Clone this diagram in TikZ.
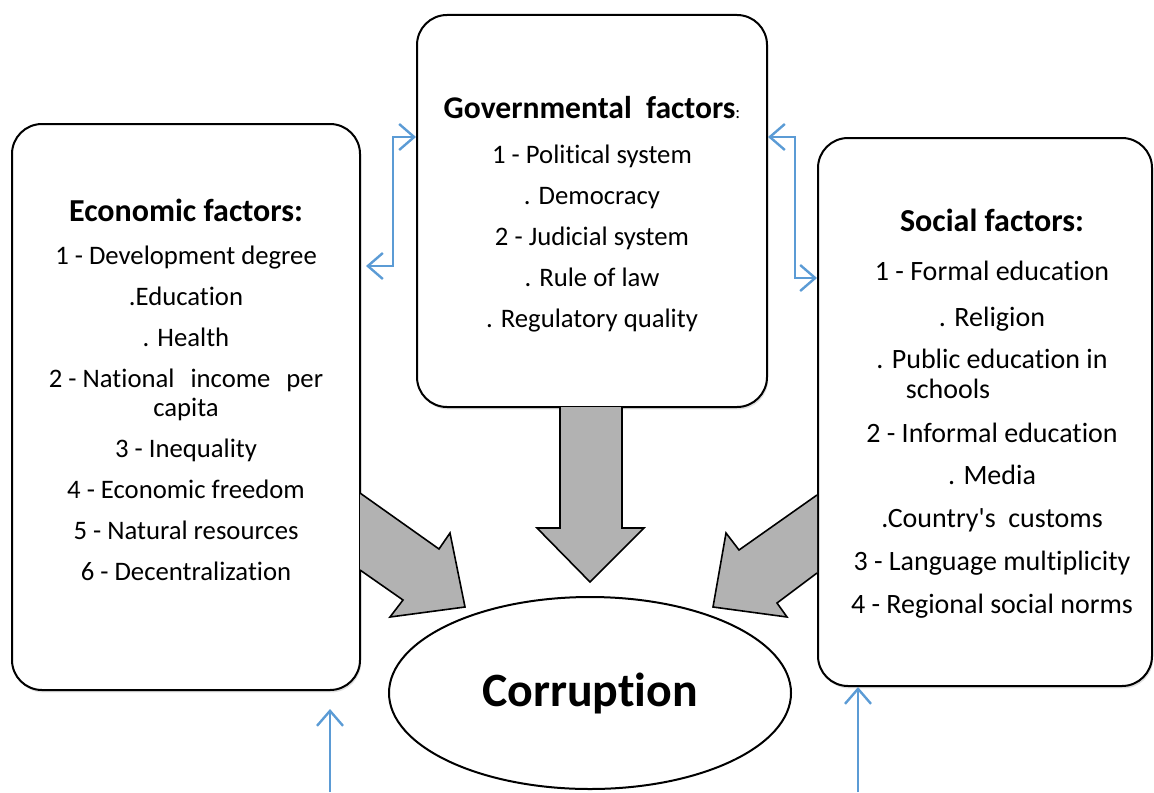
\documentclass[tikz,border=0pt]{standalone}
\usepackage{fontspec}
\setmainfont[Ligatures=NoCommon]{Carlito}
\usetikzlibrary{positioning, shapes.geometric, shadows, arrows.meta}
\definecolor{linkblue}{RGB}{91,155,213}
\tikzset{
	factor/.style = {rectangle, rounded corners=15pt, draw=black, line width=1pt, fill=white,
		drop shadow={opacity=0.25, shadow xshift=0.6pt, shadow yshift=-1.2pt}},
	items/.style = {align=center, inner sep=0pt, font=\fontsize{13.35}{14.5}\selectfont},
	link/.style = {draw=linkblue, line width=1.2pt, >={Straight Barb[length=7.5pt,width=13pt]}},
	bigarrow/.style = {draw=black, line width=0.8pt, fill=black!30}
}

\begin{document}
\begin{tikzpicture}[x=0.5pt, y=-0.5pt]
	\useasboundingbox (0,0) rectangle (1154,792);

	% the three groups of factors
	\node (econ) [factor, minimum width=174pt, minimum height=283pt] at (186,407) {};
	\node (gov) [factor, minimum width=175pt, minimum height=196pt] at (592,211) {};
	\node (social) [factor, minimum width=167pt, minimum height=274pt] at (985,412) {};

	\node (econtxt) [items, below=38pt of econ.north] {{\bfseries\fontsize{16}{18}\selectfont Economic factors:}\\[7pt]
		1 - Development degree\\[6pt] .Education\\[6pt] . Health\\[6pt]
		2 - National\hspace{5pt} income\hspace{5pt} per\\ capita\\[6pt] 3 - Inequality\\[6pt]
		4 - Economic freedom\\[6pt] 5 - Natural resources\\[6pt] 6 - Decentralization};

	\node (govtxt) [items, below=41pt of gov.north] {{\bfseries\fontsize{15.8}{18}\selectfont Governmental~ factors}{\small:}\\[8pt]
		1 - Political system\\[6pt] . Democracy\\[6pt] 2 - Judicial system\\[6pt]
		. Rule of law\\[6pt] . Regulatory quality};

	\node (socialtxt) [items, font=\fontsize{14}{15}\selectfont, below=36pt of social.north, xshift=3.5pt]
		{{\bfseries\fontsize{16}{18}\selectfont Social factors:}\\[9.5pt]
		1 - Formal education\\[8pt] . Religion\\[6pt]
		. Public education in\\ schools\rule{44pt}{0pt}\\[7pt]
		2 - Informal education\\[6pt] . Media\\[6.5pt] .Country\textquotesingle s~ customs\\[6.5pt]
		3 - Language multiplicity\\[6.5pt] 4 - Regional social norms};

	\node (corr) [ellipse, draw=black, line width=1pt, fill=white, minimum width=201pt,
		minimum height=96pt, font=\bfseries\fontsize{23.9}{27}\selectfont] at (590,693) {Corruption};

	% block arrows into corruption
	\draw [bigarrow] (360,493) -- (439,549) -- (450,533) -- (465,607) -- (390,617) -- (403,600) -- (360,570);
	\draw [bigarrow] (560,407) -- (560,528) -- (537,528) -- (590,582) -- (644,528) -- (622,528) -- (622,407);
	\draw [bigarrow] (817,495) -- (739,550) -- (726,533) -- (713,607) -- (787,617) -- (777,603) -- (817,573);

	% links between the groups
	\draw [link, <->] ([xshift=2.5pt, yshift=70.5pt]econ.east) -- ++(13.5pt,0) |- ([yshift=37pt]gov.west);
	\draw [link, <->] ([yshift=37pt]gov.east) -- ++(13.5pt,0) |- ([yshift=67pt]social.west);

	% outside influences
	\coordinate (econin) at (330,792);
	\coordinate (socialin) at (858,792);
	\draw [link, ->] (econin) -- ([yshift=-9pt]econin |- econ.south);
	\draw [link, ->] (socialin) -- (socialin |- social.south);
\end{tikzpicture}
\end{document}
